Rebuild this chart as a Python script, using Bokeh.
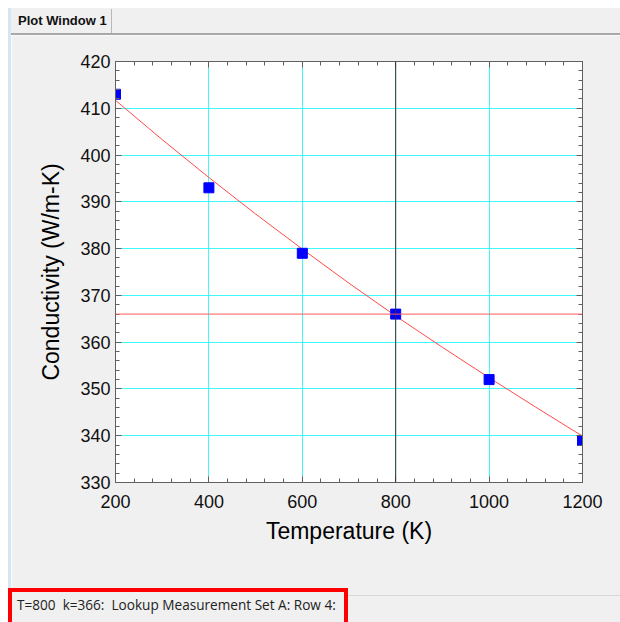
from bokeh.plotting import figure
from bokeh.models import (Range1d, LinearAxis, SingleIntervalTicker, Span, Div,
                          CustomLabelingPolicy)
from bokeh.layouts import column, row
from bokeh.embed import file_html
from bokeh.resources import INLINE

# ---------------- data ----------------
T_meas = [200, 400, 600, 800, 1000, 1200]
k_meas = [413, 393, 379, 366, 352, 339]

T_fit = [200, 300, 400, 500, 600, 700, 800, 900, 1000, 1100, 1200]
k_fit = [411.7, 403.3, 395.2, 387.4, 379.9, 372.6, 365.6, 358.9, 352.4, 346.1, 339.9]

cursor_T = 800
cursor_k = 366

x_min, x_max, x_step = 200, 1200, 200
y_min, y_max, y_step = 330, 420, 10

x_label = "Temperature (K)"
y_label = "Conductivity (W/m-K)"
tab_title = "Plot Window 1"
status_text = "T=800&nbsp;&nbsp;k=366:&nbsp;&nbsp;Lookup Measurement Set A: Row 4:"

# ---------------- layout (page pixels) ----------------
PW, PH = 620, 622
HEAD_H = 35          # tab header band
STAT_H = 34          # status band
STRIP_W = 11         # white margin + blue strip
FIG_W = PW - STRIP_W
FIG_H = PH - HEAD_H - STAT_H
FL, FT, FR, FB = 115, 61, 582, 482   # frame edges in page pixels

FONT = "Liberation Sans"
AXC = "#606060"
GRID = "#40f8f8"
BG = "#f0f0f0"

p = figure(width=FIG_W, height=FIG_H,
           x_range=Range1d(x_min, x_max), y_range=Range1d(y_min, y_max),
           output_backend="svg", toolbar_location=None,
           min_border_left=FL - STRIP_W, min_border_right=PW - FR,
           min_border_top=FT - HEAD_H, min_border_bottom=(HEAD_H + FIG_H) - FB,
           x_axis_label=x_label, y_axis_label=y_label, margin=0)

p.border_fill_color = BG
p.background_fill_color = "white"
p.outline_line_color = AXC

p.xaxis.ticker = SingleIntervalTicker(interval=x_step, num_minor_ticks=5)
p.yaxis.ticker = SingleIntervalTicker(interval=y_step, num_minor_ticks=5)

for ax in (p.xaxis[0], p.yaxis[0]):
    ax.axis_line_color = AXC
    ax.major_tick_line_color = AXC
    ax.minor_tick_line_color = AXC
    ax.major_tick_in = 6
    ax.major_tick_out = 0
    ax.minor_tick_in = 4
    ax.minor_tick_out = 0
    ax.major_label_text_font = FONT
    ax.major_label_text_font_size = "18px"
    ax.major_label_text_color = "#111111"
    ax.axis_label_text_font = FONT
    ax.axis_label_text_font_size = "23px"
    ax.axis_label_text_font_style = "normal"
    ax.axis_label_text_color = "#000000"

p.xaxis.major_label_standoff = 12
p.xaxis.axis_label_standoff = 7
p.yaxis.major_label_standoff = 5
p.yaxis.axis_label_standoff = 13

hide_labels = CustomLabelingPolicy(
    code="for (const i of [...indices.ones()]) { indices.unset(i) }\nreturn indices")

for loc, step in (("above", x_step), ("right", y_step)):
    ax = LinearAxis(ticker=SingleIntervalTicker(interval=step, num_minor_ticks=5),
                    major_label_policy=hide_labels,
                    major_label_text_font_size="1px",
                    axis_line_color=AXC, major_tick_line_color=AXC,
                    minor_tick_line_color=AXC,
                    major_tick_in=6, major_tick_out=0,
                    minor_tick_in=4, minor_tick_out=0,
                    major_label_standoff=0)
    p.add_layout(ax, loc)

p.xgrid.grid_line_color = GRID
p.ygrid.grid_line_color = GRID

# fitted curve and measurements
p.line(T_fit, k_fit, line_color="#ff4a4a", line_width=1)
p.scatter(T_meas, k_meas, marker="square", size=10,
          fill_color="#0000ff", line_color="#0000ff")

# cursor crosshair
p.add_layout(Span(location=cursor_T, dimension="height", line_color="#303030", line_width=1))
p.add_layout(Span(location=cursor_k, dimension="width", line_color="#ff5a5a", line_width=1))

# ---------------- window chrome ----------------
def blk(l, t, w, h, bg, extra=""):
    return (f'<div style="position:absolute;left:{l}px;top:{t}px;width:{w}px;'
            f'height:{h}px;background:{bg};box-sizing:border-box;{extra}"></div>')

head_html = (
    f'<div style="position:relative;width:{PW}px;height:{HEAD_H}px;background:{BG};overflow:hidden;">'
    + blk(0, 0, PW, 8, "#ffffff")
    + blk(0, 0, 8, HEAD_H, "#ffffff")
    + blk(8, 8, 3, HEAD_H - 8, "#d6e4f4")
    + blk(111, 9, 1, 24, "#b8b8b8")
    + blk(11, 33, PW - 11, 2, "#a8a8a8")
    + f'<div style="position:absolute;left:18px;top:13px;font-family:\'{FONT}\';font-size:13px;'
      f'font-weight:bold;line-height:16px;color:#111111;white-space:nowrap;">{tab_title}</div>'
    + '</div>'
)
header = Div(text=head_html, width=PW, height=HEAD_H, margin=0)

strip_html = (
    f'<div style="position:relative;width:{STRIP_W}px;height:{FIG_H}px;background:{BG};overflow:hidden;">'
    + blk(0, 0, 8, FIG_H, "#ffffff")
    + blk(8, 0, 3, FIG_H, "#d6e4f4")
    + '</div>'
)
strip = Div(text=strip_html, width=STRIP_W, height=FIG_H, margin=0)

stat_html = (
    f'<div style="position:relative;width:{PW}px;height:{STAT_H}px;background:{BG};overflow:hidden;">'
    + blk(0, 0, 8, STAT_H, "#ffffff")
    + blk(348, 7, PW - 348, 1, "#d8d8d8")
    + blk(8, 0, 340, 44, "transparent", "border:4px solid #ff0000;")
    + f'<div style="position:absolute;left:17px;top:9px;font-family:\'Open Sans\';font-size:13.6px;'
      f'line-height:16px;color:#222222;white-space:nowrap;">{status_text}</div>'
    + '</div>'
)
status = Div(text=stat_html, width=PW, height=STAT_H, margin=0)

layout = column(header, row(strip, p, margin=0), status, margin=0, spacing=0)

open("out.html", "w").write(file_html(layout, INLINE))
